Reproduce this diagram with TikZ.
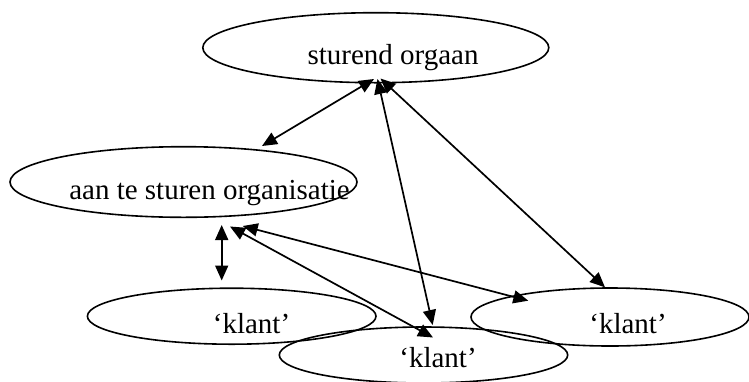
\documentclass[tikz,border=0pt]{standalone}
\usepackage{fontspec}
\setmainfont{Liberation Serif}
\usetikzlibrary{shapes.geometric,arrows.meta}
\begin{document}
\begin{tikzpicture}[x=1pt,y=-1pt,
  oval/.style={ellipse,draw,line width=1.6pt,inner sep=0pt,outer sep=0pt},
  lbl/.style={anchor=base,inner sep=0pt,font=\fontsize{29}{34}\selectfont},
  link/.style={line width=1.7pt,{Triangle[length=15pt,width=13pt]}-{Triangle[length=15pt,width=13pt]}}]
\useasboundingbox (0,0) rectangle (749,381);
% ellipses
\node[oval,minimum width=346pt,minimum height=70pt] (so) at (375.8,47.7) {};
\node[oval,minimum width=347pt,minimum height=70.6pt] (ao) at (183.5,182) {};
\node[oval,minimum width=288.6pt,minimum height=56pt] (kl) at (231.7,316.2) {};
\node[oval,minimum width=288.4pt,minimum height=56pt] (km) at (423.5,355) {};
\node[oval,minimum width=278pt,minimum height=58pt] (kr) at (610,317) {};
% labels
\node[lbl] (sot) at (393,64) {sturend orgaan};
\node[lbl] (aot) at (209.5,199) {aan te sturen organisatie};
\node[lbl] (klt) at (251.5,333) {‘klant’};
\node[lbl] (kmt) at (438,367) {‘klant’};
\node[lbl] (krt) at (628,333) {‘klant’};
% arrow end points
\coordinate (s1) at (374,79);
\coordinate (s2) at (377.5,79);
\coordinate (s3) at (380.5,78.5);
\coordinate (a0) at (262,146);
\coordinate (a1) at (221.7,225);
\coordinate (a2) at (230,226.5);
\coordinate (a3) at (242.7,226);
\coordinate (l1) at (221.7,280.5);
\coordinate (m1) at (432.7,325);
\coordinate (m2) at (433,337.5);
\coordinate (r1) at (605,287.3);
\coordinate (r2) at (528.3,300.7);
% connectors
\draw[link] (s1) -- (a0);
\draw[link] (s2) -- (m1);
\draw[link] (s3) -- (r1);
\draw[link] (a1) -- (l1);
\draw[link] (a2) -- (m2);
\draw[link] (a3) -- (r2);
\end{tikzpicture}
\end{document}
